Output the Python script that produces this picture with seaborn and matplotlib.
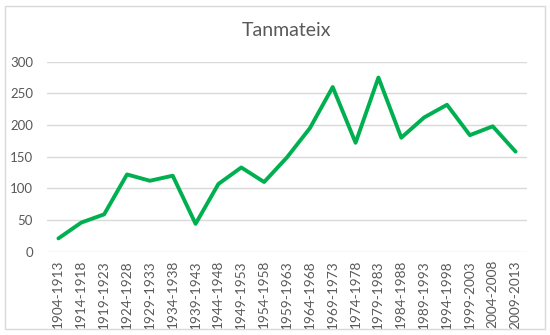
"""
plot.py

Tanmateix line chart, Excel-like style.
"""

import matplotlib.pyplot as plt
import pandas as pd
import seaborn as sns
from matplotlib.patches import Rectangle

periods = [
    "1904-1913", "1914-1918", "1919-1923", "1924-1928", "1929-1933",
    "1934-1938", "1939-1943", "1944-1948", "1949-1953", "1954-1958",
    "1959-1963", "1964-1968", "1969-1973", "1974-1978", "1979-1983",
    "1984-1988", "1989-1993", "1994-1998", "1999-2003", "2004-2008",
    "2009-2013",
]
counts = [
    21, 46, 59, 122, 112, 120, 44, 107, 133, 110,
    149, 195, 260, 172, 275, 180, 212, 232, 184, 198,
    158,
]
y_ticks = [0, 50, 100, 150, 200, 250, 300]

sns.set_theme(style="white")
plt.rcParams["font.family"] = ["Lato", "DejaVu Sans"]

df = pd.DataFrame({"period": periods, "count": counts})

fig = plt.figure(figsize=(5.5, 3.35), dpi=100)
ax = fig.add_axes([47 / 550, 1 - 251.7 / 335, 480 / 550, 190 / 335])

sns.lineplot(
    data=df,
    x="period",
    y="count",
    sort=False,
    color="#00B050",
    linewidth=2.8,
    ax=ax,
)

ax.set_xlim(-0.5, len(periods) - 0.5)
ax.set_ylim(0, 300)
ax.set_yticks(y_ticks)
ax.grid(axis="y", color="#d9d9d9", linewidth=1)
ax.set_axisbelow(True)
for side in ["top", "right", "left", "bottom"]:
    ax.spines[side].set_visible(False)

ax.set_xticks(range(len(periods)))
ax.set_xticklabels(periods, rotation=90, fontsize=9.8, color="#595959")
ax.tick_params(axis="y", labelsize=9.5, labelcolor="#595959", length=0, pad=10)
ax.tick_params(axis="x", length=0, pad=6)
ax.set_xlabel("")
ax.set_ylabel("")

fig.text(287 / 550, 1 - 30 / 335, "Tanmateix", ha="center", va="center",
         fontsize=14, color="#595959")

fig.patches.append(Rectangle(
    (5 / 550, 6 / 335), 540 / 550, 323 / 335,
    transform=fig.transFigure, fill=False, edgecolor="#d9d9d9", linewidth=1,
))

fig.savefig("out.png", dpi=100)
plt.close(fig)
